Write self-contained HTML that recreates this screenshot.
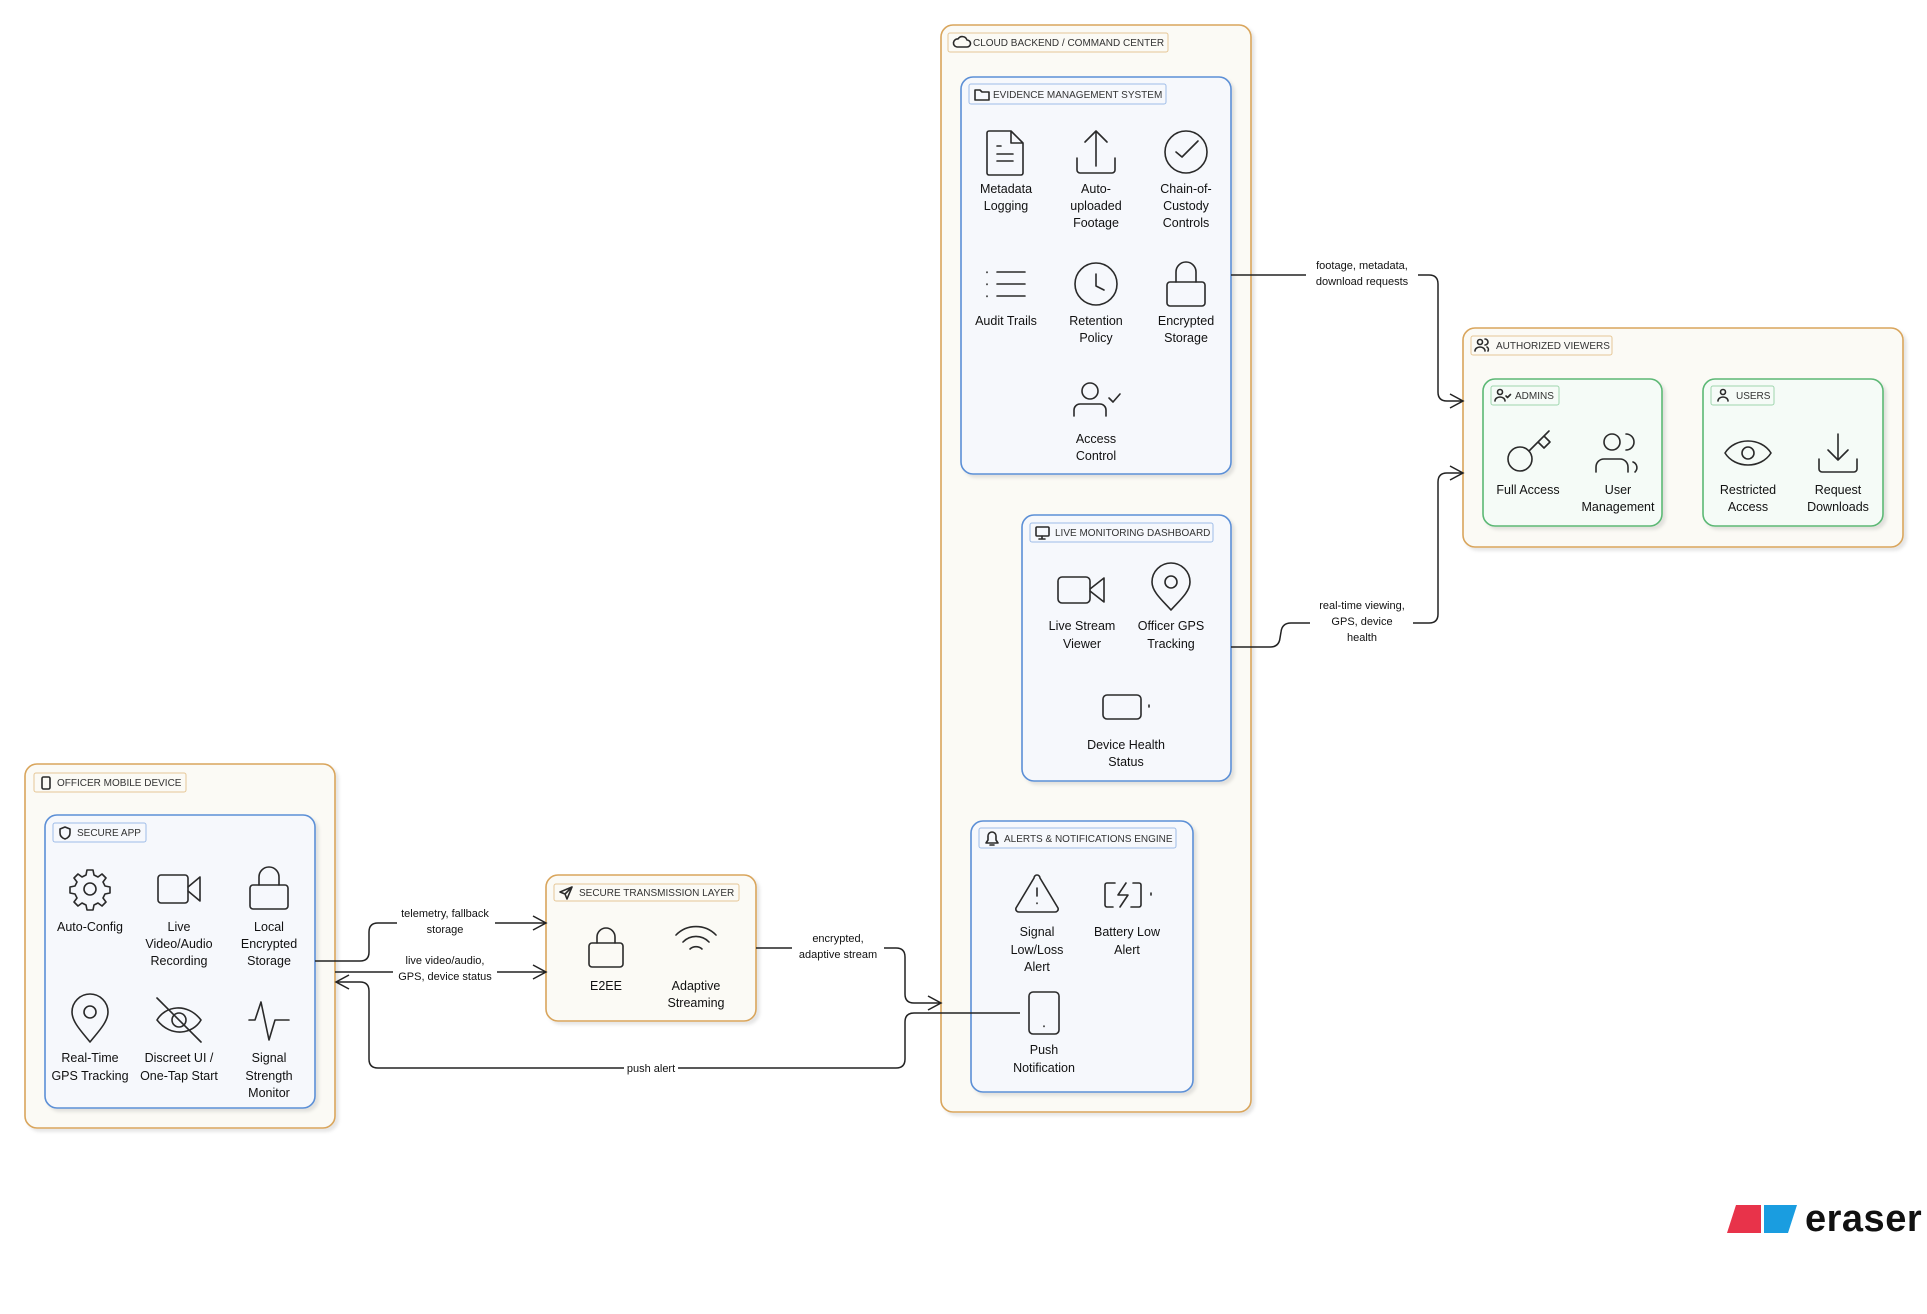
<!DOCTYPE html>
<html><head><meta charset="utf-8"><style>
html,body{margin:0;padding:0;background:#fff;}
svg{display:block;}
text{font-family:"Liberation Sans",sans-serif;fill:#111;}
.lbl{font-size:12.5px;text-anchor:middle;}
.hd{font-size:10px;fill:#333;}
.el{font-size:11px;text-anchor:middle;}
.ic{fill:none;stroke:#2a2a2a;stroke-width:1.6;stroke-linecap:round;stroke-linejoin:round;}
.ln{fill:none;stroke:#222;stroke-width:1.5;}
</style></head><body>
<svg width="1927" height="1314" viewBox="0 0 1927 1314" xmlns="http://www.w3.org/2000/svg">
<defs>
<filter id="sh" x="-5%" y="-5%" width="110%" height="110%"><feDropShadow dx="3" dy="3" stdDeviation="1.5" flood-color="#000" flood-opacity="0.10"/></filter>
</defs>

<!-- Containers -->
<rect x="25" y="764" width="310" height="364" rx="12" fill="#fbfaf5" stroke="#d9a55c" stroke-width="1.6" filter="url(#sh)"/>
<rect x="941" y="25" width="310" height="1087" rx="12" fill="#fbfaf5" stroke="#d9a55c" stroke-width="1.6" filter="url(#sh)"/>
<rect x="1463" y="328" width="440" height="219" rx="12" fill="#fbfaf5" stroke="#d9a55c" stroke-width="1.6" filter="url(#sh)"/>
<rect x="546" y="875" width="210" height="146" rx="12" fill="#fbfaf5" stroke="#d9a55c" stroke-width="1.6" filter="url(#sh)"/>

<rect x="45" y="815" width="270" height="293" rx="12" fill="#f6f8fc" stroke="#5b8fd6" stroke-width="1.6" filter="url(#sh)"/>
<rect x="961" y="77" width="270" height="397" rx="12" fill="#f6f8fc" stroke="#5b8fd6" stroke-width="1.6" filter="url(#sh)"/>
<rect x="1022" y="515" width="209" height="266" rx="12" fill="#f6f8fc" stroke="#5b8fd6" stroke-width="1.6" filter="url(#sh)"/>
<rect x="971" y="821" width="222" height="271" rx="12" fill="#f6f8fc" stroke="#5b8fd6" stroke-width="1.6" filter="url(#sh)"/>

<rect x="1483" y="379" width="179" height="147" rx="12" fill="#f5fbf7" stroke="#5cb874" stroke-width="1.6" filter="url(#sh)"/>
<rect x="1703" y="379" width="180" height="147" rx="12" fill="#f5fbf7" stroke="#5cb874" stroke-width="1.6" filter="url(#sh)"/>

<!-- Header labels -->
<g>
<rect x="34" y="773" width="152" height="19" rx="2" fill="#fbfaf5" stroke="#e6c796"/>
<rect x="42" y="777" width="8" height="12" rx="1.5" class="ic" stroke-width="1"/>
<text class="hd" x="57" y="786">OFFICER MOBILE DEVICE</text>

<rect x="53" y="823" width="93" height="19" rx="2" fill="#f6f8fc" stroke="#9fbde8"/>
<path class="ic" stroke-width="1" d="M65 827 l5 2 v4 c0 3 -2 5 -5 6 c-3 -1 -5 -3 -5 -6 v-4 z"/>
<text class="hd" x="77" y="836">SECURE APP</text>

<rect x="554" y="884" width="185" height="17" rx="2" fill="#fbfaf5" stroke="#e6c796"/>
<path class="ic" stroke-width="1" d="M572 887 l-12 5 5 2 2 5 z M565 894 l7 -7"/>
<text class="hd" x="579" y="896">SECURE TRANSMISSION LAYER</text>

<rect x="948" y="33" width="220" height="19" rx="2" fill="#fbfaf5" stroke="#e6c796"/>
<path class="ic" stroke-width="1" d="M957 47 h10 a3.5 3.5 0 0 0 0 -7 a5 5 0 0 0 -9 -1 a4 4 0 0 0 -1 8 z"/>
<text class="hd" x="973" y="46">CLOUD BACKEND / COMMAND CENTER</text>

<rect x="969" y="84" width="197" height="20" rx="2" fill="#f6f8fc" stroke="#9fbde8"/>
<path class="ic" stroke-width="1" d="M975 90 h5 l2 2 h7 v8 h-14 z"/>
<text class="hd" x="993" y="98">EVIDENCE MANAGEMENT SYSTEM</text>

<rect x="1030" y="523" width="183" height="19" rx="2" fill="#f6f8fc" stroke="#9fbde8"/>
<rect x="1036" y="527" width="13" height="9" rx="1" class="ic" stroke-width="1"/><path class="ic" stroke-width="1" d="M1042 536 v3 M1039 539 h6"/>
<text class="hd" x="1055" y="536">LIVE MONITORING DASHBOARD</text>

<rect x="979" y="828" width="197" height="20" rx="2" fill="#f6f8fc" stroke="#9fbde8"/>
<path class="ic" stroke-width="1" d="M986 843 h12 l-2 -3 v-4 a4 4 0 0 0 -8 0 v4 z M990 845 h4"/>
<text class="hd" x="1004" y="842">ALERTS &amp; NOTIFICATIONS ENGINE</text>

<rect x="1471" y="336" width="141" height="19" rx="2" fill="#fbfaf5" stroke="#e6c796"/>
<circle cx="1480" cy="342" r="2.5" class="ic" stroke-width="1"/><path class="ic" stroke-width="1" d="M1475 351 a5 4 0 0 1 10 0 M1485 339 a3 3 0 0 1 0 6 M1487 347 a3 3 0 0 1 1 4"/>
<text class="hd" x="1496" y="349">AUTHORIZED VIEWERS</text>

<rect x="1491" y="386" width="68" height="19" rx="2" fill="#f5fbf7" stroke="#9fd6ae"/>
<circle cx="1500" cy="392" r="2.5" class="ic" stroke-width="1"/><path class="ic" stroke-width="1" d="M1495 401 a5 4 0 0 1 10 0 M1506 396 l1.5 1.5 3 -3"/>
<text class="hd" x="1515" y="399">ADMINS</text>

<rect x="1711" y="386" width="63" height="19" rx="2" fill="#f5fbf7" stroke="#9fd6ae"/>
<circle cx="1723" cy="392" r="2.5" class="ic" stroke-width="1"/><path class="ic" stroke-width="1" d="M1718 401 a5 4 0 0 1 10 0"/>
<text class="hd" x="1736" y="399">USERS</text>
</g>

<!-- Officer app icons -->
<g class="ic">
<g transform="translate(90,889)"><circle r="6"/><path d="M-3 -19 h6 l1 5 4 2 4 -3 4 4 -3 4 2 4 5 1 v6 l-5 1 -2 4 3 4 -4 4 -4 -3 -4 2 -1 5 h-6 l-1 -5 -4 -2 -4 3 -4 -4 3 -4 -2 -4 -5 -1 v-6 l5 -1 2 -4 -3 -4 4 -4 4 3 4 -2 z"/></g>
<g transform="translate(179,889)"><rect x="-21" y="-14" width="30" height="28" rx="3"/><path d="M9 -2 l12 -10 v24 l-12 -10"/></g>
<g transform="translate(269,889)"><path d="M-10 -4 v-8 a10 10 0 0 1 20 0 v8"/><rect x="-19" y="-4" width="38" height="24" rx="3"/></g>
<g transform="translate(90,1020)"><path d="M0 22 c-8 -10 -18 -20 -18 -30 a18 18 0 0 1 36 0 c0 10 -10 20 -18 30 z"/><circle cy="-8" r="6"/></g>
<g transform="translate(179,1020)"><path d="M-22 0 c8 -14 30 -18 44 0 c-8 14 -30 18 -44 0 z"/><circle r="7"/><path d="M-22 -22 l44 44"/></g>
<g transform="translate(269,1020)"><path d="M-20 0 h6 l6 -18 l8 38 l6 -20 h14"/></g>
</g>
<g>
<text class="lbl" x="90" y="931">Auto-Config</text>
<text class="lbl" x="179" y="931">Live</text><text class="lbl" x="179" y="948">Video/Audio</text><text class="lbl" x="179" y="965">Recording</text>
<text class="lbl" x="269" y="931">Local</text><text class="lbl" x="269" y="948">Encrypted</text><text class="lbl" x="269" y="965">Storage</text>
<text class="lbl" x="90" y="1062">Real-Time</text><text class="lbl" x="90" y="1080">GPS Tracking</text>
<text class="lbl" x="179" y="1062">Discreet UI /</text><text class="lbl" x="179" y="1080">One-Tap Start</text>
<text class="lbl" x="269" y="1062">Signal</text><text class="lbl" x="269" y="1080">Strength</text><text class="lbl" x="269" y="1097">Monitor</text>
</g>

<!-- Transmission -->
<g class="ic">
<g transform="translate(606,949)"><path d="M-9 -6 v-6 a9 9 0 0 1 18 0 v6"/><rect x="-17" y="-6" width="34" height="24" rx="3"/></g>
<g transform="translate(696,945)"><path d="M-20 -10 a28 28 0 0 1 40 0 M-13 -3 a18 18 0 0 1 26 0 M-6 4 a9 9 0 0 1 12 0"/></g>
</g>
<text class="lbl" x="606" y="990">E2EE</text>
<text class="lbl" x="696" y="990">Adaptive</text><text class="lbl" x="696" y="1007">Streaming</text>

<!-- EMS icons -->
<g class="ic">
<g transform="translate(1006,152)"><path d="M-17 -21 h22 l12 12 v30 a2 2 0 0 1 -2 2 h-32 a2 2 0 0 1 -2 -2 v-40 a2 2 0 0 1 2 -2 z M5 -21 v12 h12 M-9 -6 h4 M-9 2 h16 M-9 9 h16"/></g>
<g transform="translate(1096,152)"><path d="M0 14 v-35 M-11 -10 l11 -11 11 11 M-19 6 v12 a3 3 0 0 0 3 3 h32 a3 3 0 0 0 3 -3 v-12"/></g>
<g transform="translate(1186,152)"><circle r="21"/><path d="M-10 0 l6 5 l16 -16"/></g>
<g transform="translate(1006,284)"><path d="M-9 -12 h28 M-9 0 h28 M-9 12 h28"/><path d="M-19 -12 v0.5 M-19 0 v0.5 M-19 12 v0.5"/></g>
<g transform="translate(1096,284)"><circle r="21"/><path d="M0 -10 v12 l8 4"/></g>
<g transform="translate(1186,284)"><path d="M-10 -2 v-10 a10 10 0 0 1 20 0 v10"/><rect x="-19" y="-2" width="38" height="24" rx="3"/></g>
<g transform="translate(1096,400)"><circle cx="-6" cy="-9" r="8"/><path d="M-22 16 v-6 a6 6 0 0 1 6 -6 h20 a6 6 0 0 1 6 6 v6 M13 -2 l4 4 7 -8"/></g>
</g>
<g>
<text class="lbl" x="1006" y="193">Metadata</text><text class="lbl" x="1006" y="210">Logging</text>
<text class="lbl" x="1096" y="193">Auto-</text><text class="lbl" x="1096" y="210">uploaded</text><text class="lbl" x="1096" y="227">Footage</text>
<text class="lbl" x="1186" y="193">Chain-of-</text><text class="lbl" x="1186" y="210">Custody</text><text class="lbl" x="1186" y="227">Controls</text>
<text class="lbl" x="1006" y="325">Audit Trails</text>
<text class="lbl" x="1096" y="325">Retention</text><text class="lbl" x="1096" y="342">Policy</text>
<text class="lbl" x="1186" y="325">Encrypted</text><text class="lbl" x="1186" y="342">Storage</text>
<text class="lbl" x="1096" y="443">Access</text><text class="lbl" x="1096" y="460">Control</text>
</g>

<!-- Live monitoring icons -->
<g class="ic">
<g transform="translate(1082,590)"><rect x="-24" y="-13" width="32" height="26" rx="4"/><path d="M8 -1 l14 -11 v24 l-14 -11"/></g>
<g transform="translate(1171,588)"><path d="M0 22 c-8 -9 -19 -18 -19 -28 a19 19 0 0 1 38 0 c0 10 -11 19 -19 28 z"/><circle cy="-6" r="6"/></g>
<g transform="translate(1122,707)"><rect x="-19" y="-12" width="38" height="24" rx="4"/><path d="M27 -2 v2"/></g>
</g>
<text class="lbl" x="1082" y="630">Live Stream</text><text class="lbl" x="1082" y="648">Viewer</text>
<text class="lbl" x="1171" y="630">Officer GPS</text><text class="lbl" x="1171" y="648">Tracking</text>
<text class="lbl" x="1126" y="749">Device Health</text><text class="lbl" x="1126" y="766">Status</text>

<!-- Alerts icons -->
<g class="ic">
<g transform="translate(1037,895)"><path d="M-3 -17 a3 3 0 0 1 6 0 l18 30 a3 3 0 0 1 -3 4 h-36 a3 3 0 0 1 -3 -4 z M0 -7 v8 M0 8 v0.5"/></g>
<g transform="translate(1123,895)"><path d="M-8 -12 h-8 a2 2 0 0 0 -2 2 v20 a2 2 0 0 0 2 2 h6 M8 12 h8 a2 2 0 0 0 2 -2 v-20 a2 2 0 0 0 -2 -2 h-6 M3 -12 l-8 12 h10 l-8 12 M28 -2 v2"/></g>
<g transform="translate(1044,1013)"><rect x="-15" y="-21" width="30" height="42" rx="4"/><path d="M0 13 v0.5"/></g>
</g>
<text class="lbl" x="1037" y="936">Signal</text><text class="lbl" x="1037" y="954">Low/Loss</text><text class="lbl" x="1037" y="971">Alert</text>
<text class="lbl" x="1127" y="936">Battery Low</text><text class="lbl" x="1127" y="954">Alert</text>
<text class="lbl" x="1044" y="1054">Push</text><text class="lbl" x="1044" y="1072">Notification</text>

<!-- Authorized viewers icons -->
<g class="ic">
<g transform="translate(1528,453)"><circle cx="-8" cy="6" r="12"/><path d="M1 -2 l20 -20 M10 -11 l6 6 6 -6 -6 -6"/></g>
<g transform="translate(1618,453)"><circle cx="-6" cy="-11" r="8"/><path d="M-22 19 v-5 a8 8 0 0 1 8 -8 h16 a8 8 0 0 1 8 8 v5 M8 -19 a8 8 0 0 1 0 16 M15 9 a6 6 0 0 1 2 10"/></g>
<g transform="translate(1748,453)"><path d="M-23 0 c10 -16 36 -16 46 0 c-10 16 -36 16 -46 0 z"/><circle r="6"/></g>
<g transform="translate(1838,453)"><path d="M0 -19 v26 M-10 -3 l10 10 10 -10 M-19 6 v10 a3 3 0 0 0 3 3 h32 a3 3 0 0 0 3 -3 v-10"/></g>
</g>
<text class="lbl" x="1528" y="494">Full Access</text>
<text class="lbl" x="1618" y="494">User</text><text class="lbl" x="1618" y="511">Management</text>
<text class="lbl" x="1748" y="494">Restricted</text><text class="lbl" x="1748" y="511">Access</text>
<text class="lbl" x="1838" y="494">Request</text><text class="lbl" x="1838" y="511">Downloads</text>

<!-- Edges -->
<g class="ln">
<!-- telemetry -->
<path d="M315 961 H360 q9 0 9 -9 V932 q0 -9 9 -9 H397"/>
<path d="M495 923 H545"/><path d="M533 916 l13 7 -13 7"/>
<!-- live video -->
<path d="M335 972 H393"/><path d="M497 972 H545"/><path d="M533 965 l13 7 -13 7"/>
<!-- push alert return -->
<path d="M1020 1013 H914 q-9 0 -9 9 V1059 q0 9 -9 9 H678"/>
<path d="M624 1068 H378 q-9 0 -9 -9 V991 q0 -9 -9 -9 H336"/><path d="M349 975 l-13 7 13 7"/>
<!-- encrypted -->
<path d="M756 948 H792"/><path d="M884 948 H896 q9 0 9 9 V994 q0 9 9 9 H940"/><path d="M928 996 l13 7 -13 7"/>
<!-- footage -->
<path d="M1231 275 H1306"/><path d="M1418 275 H1429 q9 0 9 9 V392 q0 9 9 9 H1462"/><path d="M1450 394 l13 7 -13 7"/>
<!-- real-time -->
<path d="M1231 647 H1270 q9 0 10 -9 l1 -6 q1 -9 10 -9 H1310"/><path d="M1413 623 H1429 q9 0 9 -9 V482 q0 -9 9 -9 H1462"/><path d="M1450 466 l13 7 -13 7"/>
</g>
<text class="el" x="445" y="917">telemetry, fallback</text><text class="el" x="445" y="933">storage</text>
<text class="el" x="445" y="964">live video/audio,</text><text class="el" x="445" y="980">GPS, device status</text>
<text class="el" x="651" y="1072">push alert</text>
<text class="el" x="838" y="942">encrypted,</text><text class="el" x="838" y="958">adaptive stream</text>
<text class="el" x="1362" y="269">footage, metadata,</text><text class="el" x="1362" y="285">download requests</text>
<text class="el" x="1362" y="609">real-time viewing,</text><text class="el" x="1362" y="625">GPS, device</text><text class="el" x="1362" y="641">health</text>

<!-- eraser logo -->
<path d="M1736 1205 H1761 V1233 H1727 Z" fill="#e8334a"/>
<path d="M1764 1205 H1797 L1788 1233 H1764 Z" fill="#1a9de0"/>
<text x="1805" y="1231" style="font-size:38px;font-weight:bold;fill:#111;letter-spacing:0.5px">eraser</text>
</svg>
</body></html>
